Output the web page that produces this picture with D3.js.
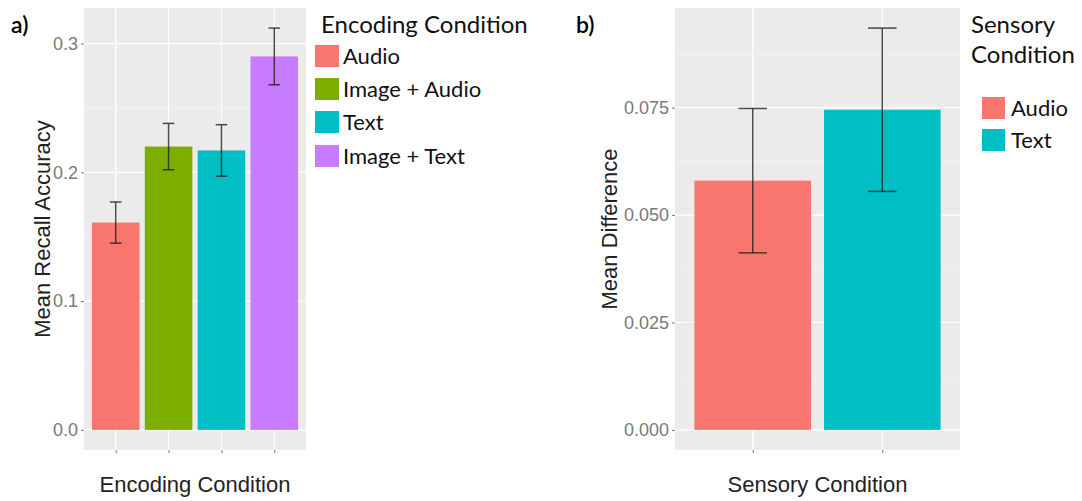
<!DOCTYPE html>
<html>
<head>
<meta charset="utf-8">
<script src="https://cdn.jsdelivr.net/npm/d3@7"></script>
<style>
  html, body { margin: 0; padding: 0; background: #fff; }
  svg { display: block; }
</style>
</head>
<body>
<svg id="chart" width="1082" height="501"></svg>
<script>
// Panel a: recall accuracy by encoding condition
const encodingCategories = ["Audio", "Image + Audio", "Text", "Image + Text"];
const encodingMeans = [0.161, 0.220, 0.217, 0.290];
const encodingErrors = [0.016, 0.018, 0.020, 0.022];
const encodingColors = ["#F8766D", "#7CAE00", "#00BFC4", "#C77CFF"];
const encodingTicks = [0.0, 0.1, 0.2, 0.3];

// Panel b: mean difference by sensory condition
const sensoryCategories = ["Audio", "Text"];
const sensoryMeans = [0.058, 0.0745];
const sensoryErrors = [0.0168, 0.019];
const sensoryColors = ["#F8766D", "#00BFC4"];
const sensoryTicks = [0.000, 0.025, 0.050, 0.075];

const svg = d3.select("#chart");
svg.append("rect").attr("width", 1082).attr("height", 501).attr("fill", "#fff");

const axisFont = "'Liberation Sans', Arial, sans-serif";
const legendFont = "Lato, 'Open Sans', sans-serif";

function drawPanel(cfg) {
  const { left, right, top, bottom, cats, means, errs, colors, ticks, fmt, yTitle, xTitle, yTitleX } = cfg;
  const data = cats.map((c, i) => ({ cat: c, mean: means[i], lo: means[i] - errs[i], hi: means[i] + errs[i], color: colors[i] }));

  // continuous y with 5% expansion of the data range (0 .. highest error bar)
  const dMax = d3.max(data, d => d.hi);
  const pad = dMax * 0.05;
  const y = d3.scaleLinear().domain([-pad, dMax + pad]).range([bottom, top]);

  // discrete x: 0.6 of a step either side, bars 0.9 of a step wide
  const x = d3.scalePoint().domain(cats).range([left, right]).padding(0.6);
  const step = x.step();
  const barW = step * 0.9;
  const capW = step * 0.22;

  const g = svg.append("g");
  g.append("rect").attr("x", left).attr("y", top)
    .attr("width", right - left).attr("height", bottom - top).attr("fill", "#EBEBEB");

  // minor grid at the midpoints between major ticks
  const tStep = ticks[1] - ticks[0];
  const minor = ticks.map(t => t + tStep / 2).filter(v => y(v) > top);
  g.selectAll(".minor").data(minor).join("line")
    .attr("x1", left).attr("x2", right)
    .attr("y1", d => y(d)).attr("y2", d => y(d))
    .attr("stroke", "#F5F5F5").attr("stroke-width", 0.8);

  g.selectAll(".majorY").data(ticks).join("line")
    .attr("x1", left).attr("x2", right)
    .attr("y1", d => y(d)).attr("y2", d => y(d))
    .attr("stroke", "#fff").attr("stroke-width", 1.3);

  g.selectAll(".majorX").data(cats).join("line")
    .attr("x1", d => x(d)).attr("x2", d => x(d))
    .attr("y1", top).attr("y2", bottom)
    .attr("stroke", "#fff").attr("stroke-width", 1.3);

  // bars
  g.selectAll(".bar").data(data).join("rect")
    .attr("x", d => x(d.cat) - barW / 2)
    .attr("y", d => y(d.mean))
    .attr("width", barW)
    .attr("height", d => y(0) - y(d.mean))
    .attr("fill", d => d.color);

  // error bars
  const eb = g.selectAll(".err").data(data).join("g")
    .attr("stroke", "#222").attr("stroke-opacity", 0.8).attr("stroke-width", 1.5);
  eb.append("line").attr("x1", d => x(d.cat)).attr("x2", d => x(d.cat))
    .attr("y1", d => y(d.lo)).attr("y2", d => y(d.hi));
  eb.append("line").attr("x1", d => x(d.cat) - capW / 2).attr("x2", d => x(d.cat) + capW / 2)
    .attr("y1", d => y(d.hi)).attr("y2", d => y(d.hi));
  eb.append("line").attr("x1", d => x(d.cat) - capW / 2).attr("x2", d => x(d.cat) + capW / 2)
    .attr("y1", d => y(d.lo)).attr("y2", d => y(d.lo));

  // y axis
  const yAxis = d3.axisLeft(y).tickValues(ticks).tickFormat(fmt).tickSize(3).tickPadding(3);
  const ya = g.append("g").attr("transform", `translate(${left},0)`).call(yAxis);
  ya.select(".domain").remove();
  ya.selectAll(".tick line").attr("stroke", "#777");
  ya.selectAll(".tick text").attr("fill", "#7a7a7a")
    .style("font-family", axisFont).style("font-size", "18px");

  // x axis: ticks only, no labels
  const xAxis = d3.axisBottom(x).tickFormat("").tickSize(3);
  const xa = g.append("g").attr("transform", `translate(0,${bottom})`).call(xAxis);
  xa.select(".domain").remove();
  xa.selectAll(".tick line").attr("stroke", "#777");

  g.append("text")
    .attr("transform", `translate(${yTitleX},${(top + bottom) / 2}) rotate(-90)`)
    .attr("text-anchor", "middle")
    .attr("fill", "#222")
    .style("font-family", axisFont).style("font-size", "22px")
    .text(yTitle);

  g.append("text")
    .attr("x", (left + right) / 2).attr("y", 492)
    .attr("text-anchor", "middle")
    .attr("fill", "#222")
    .style("font-family", axisFont).style("font-size", "22px")
    .text(xTitle);
}

drawPanel({
  left: 84, right: 306, top: 8, bottom: 450,
  cats: encodingCategories, means: encodingMeans, errs: encodingErrors, colors: encodingColors,
  ticks: encodingTicks, fmt: d3.format(".1f"),
  yTitle: "Mean Recall Accuracy", xTitle: "Encoding Condition", yTitleX: 50
});

drawPanel({
  left: 675, right: 960, top: 8, bottom: 450,
  cats: sensoryCategories, means: sensoryMeans, errs: sensoryErrors, colors: sensoryColors,
  ticks: sensoryTicks, fmt: d3.format(".3f"),
  yTitle: "Mean Difference", xTitle: "Sensory Condition", yTitleX: 617
});

// panel tags
svg.append("text").attr("x", 11).attr("y", 33).attr("fill", "#000")
  .style("font-family", legendFont).style("font-size", "23px").style("font-weight", 600).text("a)");
svg.append("text").attr("x", 576).attr("y", 33).attr("fill", "#000")
  .style("font-family", legendFont).style("font-size", "23px").style("font-weight", 600).text("b)");

// legends
function drawLegend(cfg) {
  const { x0, titleLines, titleY, keyX, labelX, keyYs, keyW, keyH, cats, colors } = cfg;
  const g = svg.append("g");
  titleLines.forEach((t, i) => {
    g.append("text").attr("x", x0).attr("y", titleY + i * 30).attr("fill", "#111")
      .style("font-family", legendFont).style("font-size", "24px").text(t);
  });
  const items = cats.map((c, i) => ({ cat: c, color: colors[i], ky: keyYs[i] }));
  g.selectAll(".key").data(items).join("rect")
    .attr("x", keyX).attr("y", d => d.ky).attr("width", keyW).attr("height", keyH)
    .attr("fill", d => d.color);
  g.selectAll(".lab").data(items).join("text")
    .attr("x", labelX).attr("y", d => d.ky + keyH / 2 + 7.5)
    .attr("fill", "#111")
    .style("font-family", legendFont).style("font-size", "22px")
    .text(d => d.cat);
}

drawLegend({
  x0: 321, titleLines: ["Encoding Condition"], titleY: 33,
  keyX: 315, labelX: 343, keyYs: [45, 78, 111, 145], keyW: 24, keyH: 22,
  cats: encodingCategories, colors: encodingColors
});

drawLegend({
  x0: 971, titleLines: ["Sensory", "Condition"], titleY: 33,
  keyX: 982, labelX: 1011, keyYs: [97, 129], keyW: 23, keyH: 22,
  cats: sensoryCategories, colors: sensoryColors
});
</script>
</body>
</html>
